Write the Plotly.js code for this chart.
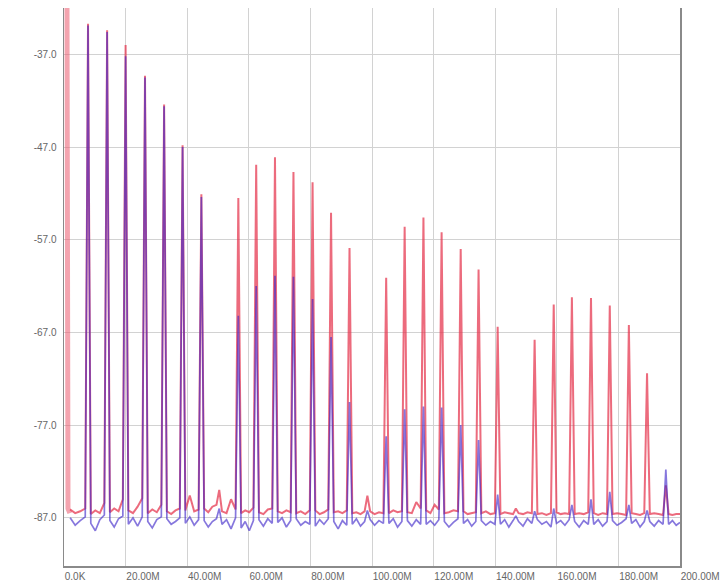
<!DOCTYPE html>
<html>
<head>
<meta charset="utf-8">
<script src="https://cdn.plot.ly/plotly-3.0.1.min.js"></script>
<style>html,body{margin:0;padding:0;background:#fff;}#chart{width:726px;height:583px;}</style>
</head>
<body>
<div id="chart"></div>
<script>
// ---- data (frequency in MHz, level in dB) ----
const xTickVals = [0, 20, 40, 60, 80, 100, 120, 140, 160, 180, 200];
const xTickText = ["0.0K", "20.00M", "40.00M", "60.00M", "80.00M", "100.00M", "120.00M", "140.00M", "160.00M", "180.00M", "200.00M"];
const yTickVals = [-37, -47, -57, -67, -77, -87];
const yTickText = ["-37.0", "-47.0", "-57.0", "-67.0", "-77.0", "-87.0"];

const peakFreqM = [7.8, 14.0, 20.0, 26.3, 32.5, 38.5, 44.6, 50.4, 56.6, 62.4, 68.5, 74.5, 80.7, 86.7, 92.7, 98.5,
  104.6, 110.6, 116.7, 122.6, 128.8, 134.6, 140.8, 146.7, 152.8, 159.0, 164.9, 171.1, 177.2, 183.4, 189.3, 195.4];
const redPeakDb = [-33.7, -34.4, -36.0, -39.3, -42.4, -46.8, -52.1, -84.0, -52.5, -48.9, -48.1, -49.7, -50.8, -54.1, -57.9, -84.6,
  -61.1, -55.6, -54.6, -56.2, -58.0, -60.2, -66.4, -86.0, -67.8, -64.0, -63.2, -63.3, -64.1, -66.2, -71.4, -83.5];
const bluePeakDb = [-33.9, -34.6, -37.2, -39.5, -42.6, -47.0, -52.4, -86.0, -65.2, -62.0, -60.9, -61.0, -63.4, -67.5, -74.5, -86.2,
  -78.2, -75.3, -75.0, -75.1, -77.0, -78.6, -84.5, -86.8, -86.3, -86.0, -85.6, -85.0, -84.2, -85.6, -86.2, -81.8];

// DC component at the left edge
const dcFreqM = [0.9, 1.0, 1.3, 1.9];
const dcDb = [-20, -84, -86.0, -86.5];

// noise floor readings, 4 per gap between peaks (33 gaps)
const redFloorDb = [
  -86.1,-86.5,-86.3,-86.0, -86.6,-86.2,-86.5,-85.4, -86.4,-86.0,-86.3,-85.0, -86.2,-86.5,-85.8,-84.9,
  -86.5,-86.1,-86.4,-85.6, -86.3,-86.6,-86.2,-86.0, -86.2,-84.6,-86.3,-86.1, -86.0,-86.4,-85.8,-85.6,
  -86.3,-86.5,-85.0,-86.1, -86.5,-86.2,-86.4,-85.9, -86.4,-86.6,-86.1,-86.0, -86.3,-86.5,-86.2,-86.4,
  -86.5,-86.3,-86.6,-86.2, -86.2,-86.6,-86.4,-86.1, -86.4,-86.3,-86.5,-86.2, -86.5,-86.4,-86.6,-86.3,
  -86.3,-86.6,-86.4,-86.5, -86.5,-86.2,-86.4,-86.3, -86.4,-86.5,-85.3,-86.0, -86.2,-86.5,-85.6,-86.1,
  -86.5,-86.4,-86.2,-86.3, -86.3,-86.6,-86.5,-86.4, -86.5,-86.3,-86.6,-86.5, -86.6,-86.4,-86.5,-86.6,
  -86.5,-86.6,-86.4,-86.5, -86.6,-86.5,-86.7,-86.5, -86.4,-86.6,-86.5,-86.6, -86.6,-86.5,-86.6,-86.4,
  -86.5,-86.7,-86.5,-86.6, -86.6,-86.5,-86.6,-86.7, -86.5,-86.6,-86.7,-86.5, -86.6,-86.5,-86.6,-86.7,
  -86.6,-86.7,-86.6,-86.6
];
const blueFloorDb = [
  -87.0,-87.8,-87.3,-86.9, -87.6,-88.4,-87.2,-86.7, -87.3,-88.0,-87.1,-86.8, -87.7,-87.0,-87.9,-86.9,
  -87.4,-88.1,-87.2,-86.9, -87.1,-87.7,-87.4,-87.0, -87.6,-86.9,-87.8,-87.2, -87.3,-88.0,-87.4,-87.1,
  -87.7,-87.2,-88.2,-87.0, -88.1,-87.4,-88.4,-87.3, -87.2,-87.9,-87.1,-87.6, -87.5,-87.0,-88.0,-87.3,
  -87.1,-87.8,-87.4,-87.7, -87.9,-87.2,-87.7,-87.1, -87.4,-88.2,-87.3,-87.8, -87.7,-87.1,-87.9,-87.4,
  -87.2,-87.8,-87.3,-87.6, -87.6,-87.1,-88.0,-87.4, -87.3,-87.9,-87.2,-87.7, -87.7,-87.3,-87.8,-87.2,
  -87.4,-88.0,-87.5,-87.1, -87.6,-87.2,-87.9,-87.4, -87.3,-87.8,-87.4,-87.7, -87.7,-87.2,-88.0,-87.3,
  -87.4,-87.9,-87.1,-87.6, -87.2,-87.7,-87.4,-88.0, -87.6,-87.3,-87.8,-87.2, -87.4,-88.0,-87.3,-87.7,
  -87.7,-87.2,-87.9,-87.4, -87.3,-87.8,-87.5,-87.1, -87.6,-87.2,-88.0,-87.4, -87.4,-87.9,-87.3,-87.7,
  -87.7,-87.3,-87.8,-87.5
];

// ---- build line traces from the readings ----
const PER_GAP = 4, HALF_BASE = 0.9, X_START = 2.0, X_END = 200;
function buildSpectrum(peaks, floor) {
  const xs = [], ys = [];
  const n = peakFreqM.length;
  for (let g = 0; g <= n; g++) {
    const a = g === 0 ? X_START : peakFreqM[g - 1] + HALF_BASE;
    const b = g === n ? X_END : peakFreqM[g] - HALF_BASE;
    for (let i = 0; i < PER_GAP; i++) {
      xs.push(a + (b - a) * i / (PER_GAP - 1));
      ys.push(floor[g * PER_GAP + i]);
    }
    if (g < n) { xs.push(peakFreqM[g]); ys.push(peaks[g]); }
  }
  return { xs, ys };
}
const red = buildSpectrum(redPeakDb, redFloorDb);
const blue = buildSpectrum(bluePeakDb, blueFloorDb);

const traces = [
  { x: dcFreqM, y: dcDb, mode: 'lines', line: { color: 'rgba(235,90,110,0.55)', width: 5 }, hoverinfo: 'skip' },
  { x: red.xs, y: red.ys, mode: 'lines', line: { color: 'rgba(228,50,75,0.72)', width: 2 }, name: 'red' },
  { x: blue.xs, y: blue.ys, mode: 'lines', line: { color: 'rgba(60,35,200,0.62)', width: 1.7 }, name: 'blue' }
];

const layout = {
  width: 726, height: 583,
  margin: { l: 64, r: 46, t: 8, b: 17 },
  paper_bgcolor: '#ffffff', plot_bgcolor: '#ffffff',
  showlegend: false,
  font: { family: 'Liberation Sans, Arial, sans-serif', size: 10, color: '#666' },
  xaxis: {
    range: [0, 200], tickvals: xTickVals, ticktext: xTickText,
    ticklabelposition: 'outside right',
    showgrid: true, gridcolor: '#d2d2d2', gridwidth: 1,
    showline: true, linecolor: '#8a8a8a', linewidth: 1.5,
    zeroline: false, ticks: '', tickfont: { size: 10, color: '#666' }
  },
  yaxis: {
    range: [-92.2, -32.0], tickvals: yTickVals, ticktext: yTickText,
    showgrid: true, gridcolor: '#d2d2d2', gridwidth: 1,
    showline: true, mirror: true, linecolor: '#8a8a8a', linewidth: 1.5,
    zeroline: false, ticks: 'outside', ticklen: 4, tickcolor: 'rgba(0,0,0,0)',
    tickfont: { size: 10, color: '#666' }
  }
};

Plotly.newPlot('chart', traces, layout, { displayModeBar: false, staticPlot: true });
</script>
</body>
</html>
